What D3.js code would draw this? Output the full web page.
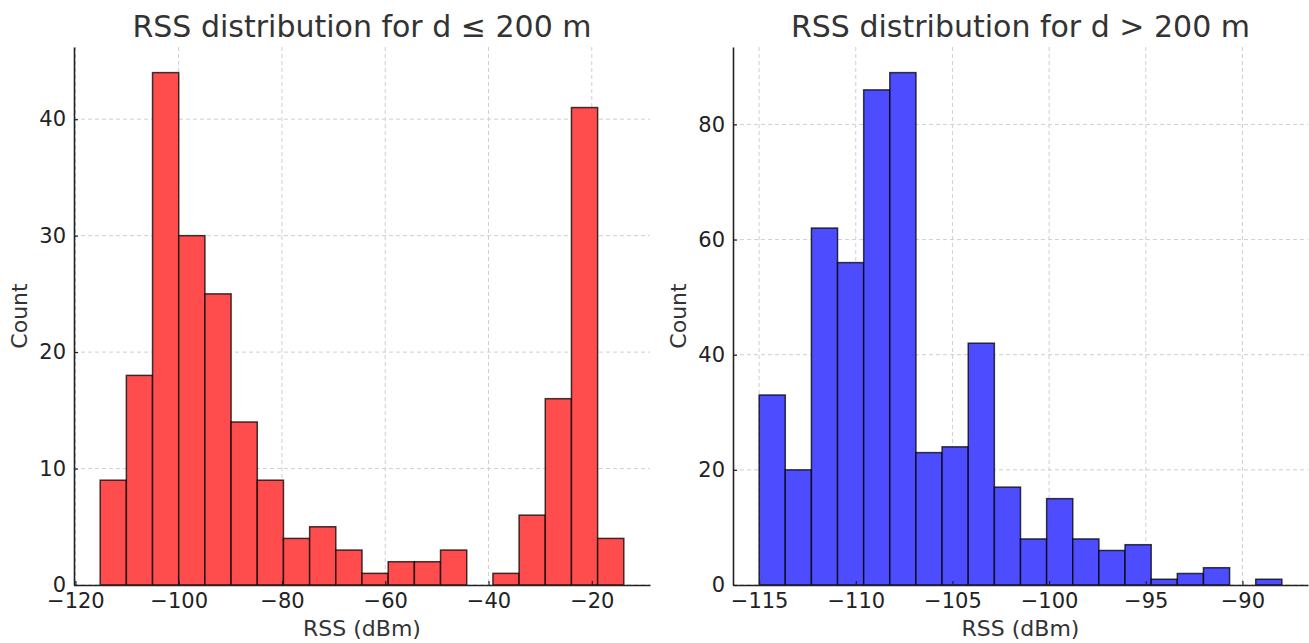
<!DOCTYPE html>
<html>
<head>
<meta charset="utf-8">
<script src="https://cdn.jsdelivr.net/npm/d3@7"></script>
<style>
  body { margin: 0; background: #fff; }
  svg { font-family: "DejaVu Sans", sans-serif; }
</style>
</head>
<body>
<div id="plot"></div>
<script>
// histogram counts (20 equal bins each)
var nearCounts = [9, 18, 44, 30, 25, 14, 9, 4, 5, 3, 1, 2, 2, 3, 0, 1, 6, 16, 41, 4];
var nearRange = [-115.2, -13.8];
var nearXTicks = [-120, -100, -80, -60, -40, -20];
var nearYTicks = [0, 10, 20, 30, 40];

var farCounts = [33, 20, 62, 56, 86, 89, 23, 24, 42, 17, 8, 15, 8, 6, 7, 1, 2, 3, 0, 1];
var farRange = [-115.0, -87.96];
var farXTicks = [-115, -110, -105, -100, -95, -90];
var farYTicks = [0, 20, 40, 60, 80];

var W = 1309, H = 643;
var svg = d3.select('#plot').append('svg')
    .attr('width', W)
    .attr('height', H);

function fmt(v) {
    return (v < 0 ? '\u2212' : '') + Math.abs(v);
}

function drawHist(opts) {
    var m = opts.margin;
    var w = m.r - m.l, h = m.b - m.t;
    var g = svg.append('g').attr('transform', 'translate(' + m.l + ',' + m.t + ')');

    var lo = opts.range[0], hi = opts.range[1];
    var n = opts.counts.length;
    var bw = (hi - lo) / n;
    var pad = (hi - lo) * 0.05;
    var x = d3.scaleLinear().domain([lo - pad, hi + pad]).range([0, w]);
    var y = d3.scaleLinear().domain([0, d3.max(opts.counts) * 1.05]).range([h, 0]);

    var bins = opts.counts.map(function(c, i) {
        return {x0: lo + i * bw, x1: lo + (i + 1) * bw, c: c};
    });

    // grid
    g.selectAll('.gx').data(opts.xTicks).enter().append('line')
        .attr('x1', function(d){ return x(d); }).attr('x2', function(d){ return x(d); })
        .attr('y1', 0).attr('y2', h)
        .attr('stroke', '#cfcfcf').attr('stroke-width', 1).attr('stroke-dasharray', '4,3');
    g.selectAll('.gy').data(opts.yTicks).enter().append('line')
        .attr('x1', 0).attr('x2', w)
        .attr('y1', function(d){ return y(d); }).attr('y2', function(d){ return y(d); })
        .attr('stroke', '#cfcfcf').attr('stroke-width', 1).attr('stroke-dasharray', '4,3');

    // bars
    g.selectAll('.bar').data(bins.filter(function(b){ return b.c > 0; })).enter().append('rect')
        .attr('x', function(d){ return x(d.x0); })
        .attr('width', function(d){ return x(d.x1) - x(d.x0); })
        .attr('y', function(d){ return y(d.c); })
        .attr('height', function(d){ return h - y(d.c); })
        .attr('fill', opts.color)
        .attr('stroke', 'rgba(0,0,0,0.75)')
        .attr('stroke-width', 1.5);

    // axes
    var xa = g.append('g').attr('transform', 'translate(0,' + h + ')')
        .call(d3.axisBottom(x).tickValues(opts.xTicks).tickFormat(fmt).tickSizeInner(-4).tickSizeOuter(0).tickPadding(8));
    var ya = g.append('g')
        .call(d3.axisLeft(y).tickValues(opts.yTicks).tickFormat(fmt).tickSizeInner(-4).tickSizeOuter(0).tickPadding(8));
    [xa, ya].forEach(function(a) {
        a.selectAll('text').attr('font-size', 21).attr('fill', '#222').attr('font-family', '"DejaVu Sans", sans-serif');
        a.select('.domain').attr('stroke', '#222').attr('stroke-width', 1.6);
        a.selectAll('.tick line').attr('stroke', '#222').attr('stroke-width', 1.2);
    });

    // labels
    g.append('text')
        .attr('x', w / 2).attr('y', -10)
        .attr('text-anchor', 'middle')
        .attr('font-size', 30).attr('fill', '#333')
        .text(opts.title);
    g.append('text')
        .attr('x', w / 2).attr('y', h + 51)
        .attr('text-anchor', 'middle')
        .attr('font-size', 22).attr('fill', '#333')
        .text('RSS (dBm)');
    g.append('text')
        .attr('transform', 'translate(' + opts.ylabX + ',' + (h / 2) + ') rotate(-90)')
        .attr('text-anchor', 'middle')
        .attr('font-size', 22).attr('fill', '#333')
        .text('Count');
}

drawHist({
    margin: {l: 74, r: 650, t: 47, b: 585},
    counts: nearCounts, range: nearRange,
    xTicks: nearXTicks, yTicks: nearYTicks,
    color: 'rgb(255,77,77)',
    title: 'RSS distribution for d \u2264 200 m',
    ylabX: -47
});

drawHist({
    margin: {l: 733, r: 1308, t: 47, b: 585},
    counts: farCounts, range: farRange,
    xTicks: farXTicks, yTicks: farYTicks,
    color: 'rgb(77,77,255)',
    title: 'RSS distribution for d > 200 m',
    ylabX: -47
});
</script>
</body>
</html>
